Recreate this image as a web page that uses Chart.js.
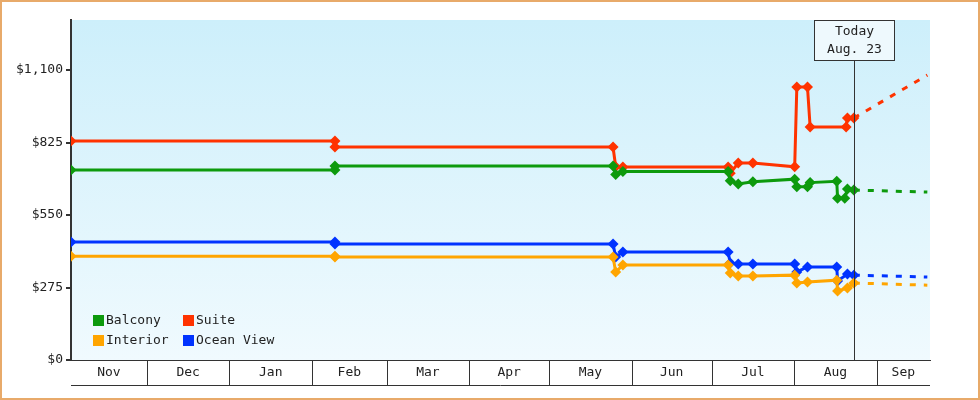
<!DOCTYPE html>
<html><head><meta charset="utf-8">
<script src="https://cdn.jsdelivr.net/npm/chart.js@4/dist/chart.umd.min.js"></script>
<style>html,body{margin:0;padding:0;background:#fff}#w{position:relative;width:980px;height:400px;box-sizing:border-box;border:2px solid #e8aa6a}</style>
</head><body><div id="w"><canvas id="c" width="976" height="396"></canvas></div>
<script>
const monthStarts=[30,61,92,120,151,181,212,242,273,304];
const monthLabels=["Nov","Dec","Jan","Feb","Mar","Apr","May","Jun","Jul","Aug","Sep"];
const yTicks=[0,275,550,825,1100];
const todayDay=295.4, todayLabel=["Today","Aug. 23"];
const balcony=[[1.5,721],[100.6,721],[100.6,736],[205,736],[206,704],[208.7,715],[248.2,715],[249,680],[252,668],[257.5,676],[273.2,686],[274,657],[278,657],[279,673],[289,678],[289.3,614],[292,614],[293,649],[295.4,645]];
const balconyProj=[[295.4,645],[323,637]];
const suite=[[1.5,831],[100.6,831],[100.6,808],[205,808],[206,733],[208.7,732],[248.2,732],[249,709],[252,747],[257.5,747],[273.2,733],[274,1036],[278,1036],[279,884],[292.5,884],[293,918],[295.4,918]];
const suiteProj=[[295.4,918],[323,1081]];
const interior=[[1.5,394],[100.6,394],[100.6,391],[205,391],[206,334],[208.7,360],[248.2,360],[249,330],[252,319],[257.5,319],[273.2,322],[274,292],[278,296],[289,303],[289.3,262],[293,273],[295.4,292]];
const interiorProj=[[295.4,292],[323,284]];
const oceanView=[[1.5,448],[100.6,448],[100.6,440],[205,440],[206,391],[208.7,410],[248.2,410],[249,368],[252,364],[257.5,364],[273.2,364],[274,334],[278,353],[289,353],[289.3,300],[293,326],[295.4,322]];
const oceanViewProj=[[295.4,322],[323,315]];

const FONT="'DejaVu Sans Mono', monospace";
const bounds=[1.5,...monthStarts,324];
const mids=bounds.slice(0,-1).map((b,i)=>(b+bounds[i+1])/2);
const toXY=a=>a.map(p=>({x:p[0],y:p[1]}));
function ds(label,data,color){return{label,data:toXY(data),borderColor:color,backgroundColor:color,borderWidth:3,pointStyle:'rectRot',pointRadius:5.5,pointBorderWidth:0,tension:0};}
function pj(data,color){return{label:'',data:toXY(data),borderColor:color,borderWidth:3,borderDash:[6,8],pointRadius:0,tension:0};}
const colors={Balcony:'#0d9a0d',Suite:'#ff3300',Interior:'#ffa500','Ocean View':'#0033ff'};
const extras={id:'extras',
 beforeDraw(ch){const a=ch.chartArea,c=ch.ctx;const g=c.createLinearGradient(0,a.top,0,a.bottom);g.addColorStop(0,'#cdeffb');g.addColorStop(1,'#f0fafe');c.fillStyle=g;c.fillRect(a.left,a.top,a.right-a.left,a.bottom-a.top);},
 afterDraw(ch){const a=ch.chartArea,c=ch.ctx,xs=ch.scales.x;c.save();
  c.strokeStyle='#333';c.lineWidth=1;
  c.beginPath();c.moveTo(a.left,a.bottom+25.5);c.lineTo(a.right,a.bottom+25.5);c.stroke();
  monthStarts.forEach(d=>{const x=Math.round(xs.getPixelForValue(d))+0.5;c.beginPath();c.moveTo(x,a.bottom);c.lineTo(x,a.bottom+25);c.stroke();});
  const tx=Math.round(xs.getPixelForValue(todayDay))+0.5;
  c.beginPath();c.moveTo(tx,a.top+40);c.lineTo(tx,a.bottom);c.stroke();
  c.fillStyle='#eef9fd';c.fillRect(tx-40,a.top,80,40);c.strokeRect(tx-40,a.top+0.5,80,40);
  c.fillStyle='#222';c.font='13px '+FONT;c.textAlign='center';c.textBaseline='middle';
  c.fillText(todayLabel[0],tx,a.top+12);c.fillText(todayLabel[1],tx,a.top+30);
  const items=[['Balcony',0,0],['Suite',1,0],['Interior',0,1],['Ocean View',1,1]];
  c.textAlign='left';
  items.forEach(([n,col,row])=>{const x=a.left+22+col*90,y=a.bottom-39+row*20;c.fillStyle=colors[n];c.fillRect(x,y-6,11,11);c.fillStyle='#222';c.fillText(n,x+13,y);});
  c.restore();}};
new Chart(document.getElementById('c'),{type:'line',
 data:{datasets:[ds('Balcony',balcony,colors.Balcony),ds('Suite',suite,colors.Suite),ds('Interior',interior,colors.Interior),ds('Ocean View',oceanView,colors['Ocean View']),
  pj(balconyProj,colors.Balcony),pj(suiteProj,colors.Suite),pj(interiorProj,colors.Interior),pj(oceanViewProj,colors['Ocean View'])]},
 options:{responsive:false,animation:false,events:[],layout:{padding:{top:18,right:48,left:0,bottom:0}},
  plugins:{legend:{display:false},tooltip:{enabled:false}},
  scales:{
   x:{type:'linear',min:1.5,max:324,afterFit:s=>{s.height=38;},
     afterBuildTicks:s=>{s.ticks=mids.map(v=>({value:v}));},
     ticks:{autoSkip:false,maxRotation:0,padding:-3,color:'#222',font:{family:FONT,size:13},callback:(v,i)=>monthLabels[i]},
     grid:{display:false},border:{color:'#333',width:1}},
   y:{min:0,max:1290,afterFit:s=>{s.width=69;},
     afterBuildTicks:s=>{s.ticks=yTicks.map(v=>({value:v}));},
     ticks:{padding:3,color:'#222',font:{family:FONT,size:13},callback:v=>'$'+v.toLocaleString('en-US')},
     grid:{drawOnChartArea:false,tickLength:5,color:'#333',lineWidth:2},border:{color:'#333',width:2}}}},
 plugins:[extras]});
</script></body></html>
